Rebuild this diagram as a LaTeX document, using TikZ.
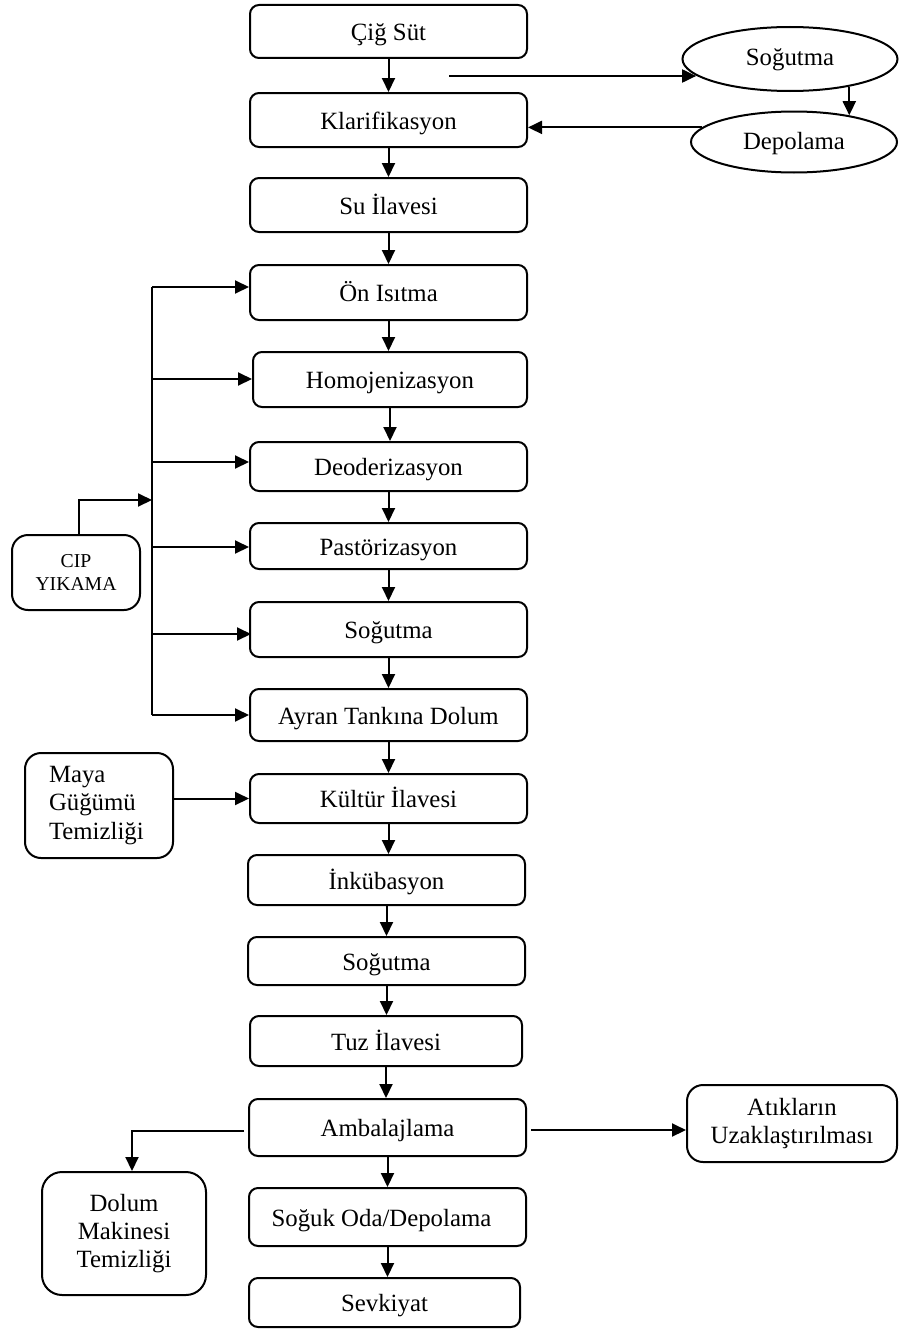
\documentclass[tikz,border=0pt]{standalone}
\usepackage{fontspec}
\setmainfont{Liberation Serif}
\usetikzlibrary{arrows.meta,shapes.geometric}

\tikzset{
  every picture/.style={line width=2pt},
  stepbox/.style={draw, rounded corners=9pt, align=center, inner sep=0pt,
    font=\fontsize{24.8}{28.3}\selectfont},
  oneline/.style={stepbox, text height=24pt, text depth=6pt},
  sidebox/.style={stepbox, rounded corners=16pt},
  oval/.style={draw, ellipse, inner sep=0pt, text height=20pt, text depth=6pt,
    font=\fontsize{24.8}{28.3}\selectfont},
  arr/.style={-{Triangle[length=14pt,width=13pt]}},
}

\begin{document}
\begin{tikzpicture}[x=1pt,y=-1pt]
\useasboundingbox (0,0) rectangle (899,1330);

% main process column
\node[oneline, minimum width=277pt, minimum height=53pt] (cig)   at (388.5,31.5)  {Çiğ Süt};
\node[oneline, minimum width=277pt, minimum height=54pt] (klar)  at (388.5,120)   {Klarifikasyon};
\node[oneline, minimum width=277pt, minimum height=54pt] (su)    at (388.5,205)   {Su İlavesi};
\node[oneline, minimum width=277pt, minimum height=55pt] (on)    at (388.5,292.5) {Ön Isıtma};
\node[oneline, minimum width=274pt, minimum height=55pt] (homo)  at (390,379.5)   {Homojenizasyon};
\node[oneline, minimum width=277pt, minimum height=49pt] (deo)   at (388.5,466.5) {Deoderizasyon};
\node[oneline, minimum width=277pt, minimum height=46pt] (past)  at (388.5,546)   {Pastörizasyon};
\node[oneline, minimum width=277pt, minimum height=55pt] (soga)  at (388.5,629.5) {Soğutma};
\node[oneline, minimum width=277pt, minimum height=52pt] (ayran) at (388.5,715)   {Ayran Tankına Dolum};
\node[oneline, minimum width=277pt, minimum height=49pt] (kult)  at (388.5,798.5) {Kültür İlavesi};
\node[oneline, minimum width=277pt, minimum height=50pt] (inku)  at (386.5,880)   {İnkübasyon};
\node[oneline, minimum width=277pt, minimum height=48pt] (sogb)  at (386.5,961)   {Soğutma};
\node[oneline, minimum width=272pt, minimum height=50pt] (tuz)   at (386,1041)    {Tuz İlavesi};
\node[oneline, minimum width=277pt, minimum height=57pt] (amb)   at (387.5,1127.5){Ambalajlama};
\node[oneline, minimum width=277pt, minimum height=58pt] (soguk) at (387.5,1217)  {\hspace*{-12pt}Soğuk Oda/Depolama};
\node[oneline, minimum width=271pt, minimum height=49pt] (sevk)  at (384.5,1302.5){Sevkiyat};

% cooling / storage loop
\node[oval, minimum width=215pt, minimum height=64pt] (sogE) at (790,59)  {Soğutma};
\node[oval, minimum width=206pt, minimum height=61pt] (depE) at (794,142) {Depolama};

% side boxes
\node[sidebox, minimum width=128pt, minimum height=75pt,
      font=\fontsize{19.7}{23.3}\selectfont] (cip) at (76,572.5) {CIP\\YIKAMA};
\node[sidebox, minimum width=148pt, minimum height=105pt, align=left,
      text width=100pt] (maya) at (99,805.5) {\rule{0pt}{12pt}Maya\\Güğümü\\Temizliği};
\node[sidebox, rounded corners=20pt, minimum width=164pt, minimum height=123pt] (dolum) at (124,1233.5)
      {Dolum\\Makinesi\\Temizliği};
\node[sidebox, minimum width=210pt, minimum height=77pt] (atik) at (792,1123.5)
      {Atıkların\\Uzaklaştırılması};

% main flow arrows
\foreach \a/\b in {cig/klar, klar/su, su/on, on/homo, homo/deo, deo/past,
                   past/soga, soga/ayran, ayran/kult, kult/inku, inku/sogb,
                   sogb/tuz, tuz/amb, amb/soguk, soguk/sevk}
  \draw[arr] (\a.south) -- (\a.south |- \b.north);

% branch to the cooling / storage loop
\coordinate (toCool) at (449,76);
\draw[arr] (toCool) -- (sogE.190 |- toCool);
\draw[arr] (sogE.-25) -- (sogE.-25 |- depE.26);
\draw[arr] (depE.171) -- (depE.171 -| klar.east);

% CIP distribution bus
\coordinate (bus1) at (152,287);
\coordinate (bus2) at (152,379);
\coordinate (bus3) at (152,462);
\coordinate (bus4) at (152,547);
\coordinate (bus5) at (152,634);
\coordinate (bus6) at (152,715);
\coordinate (busC) at (152,500);
\draw (bus1) -- (bus6);
\draw[arr] (bus1) -- (bus1 -| on.west);
\draw[arr] (bus2) -- (bus2 -| homo.west);
\draw[arr] (bus3) -- (bus3 -| deo.west);
\draw[arr] (bus4) -- (bus4 -| past.west);
\draw[arr] ([xshift=-1pt]bus5) -- ([xshift=2pt]bus5 -| soga.west);
\draw[arr] (bus6) -- (bus6 -| ayran.west);
\draw[arr] ([xshift=3pt]cip.north) |- (busC);

% starter vessel cleaning
\draw[arr] (maya.east |- kult.west) -- (kult.west);

% packaging outputs
\draw[arr] ([xshift=-4pt,yshift=-3.5pt]amb.west) -| ([xshift=8pt]dolum.north);
\draw[arr] ([xshift=4pt,yshift=-2.5pt]amb.east) -- ([yshift=-2.5pt]amb.east -| atik.west);
\end{tikzpicture}
\end{document}
